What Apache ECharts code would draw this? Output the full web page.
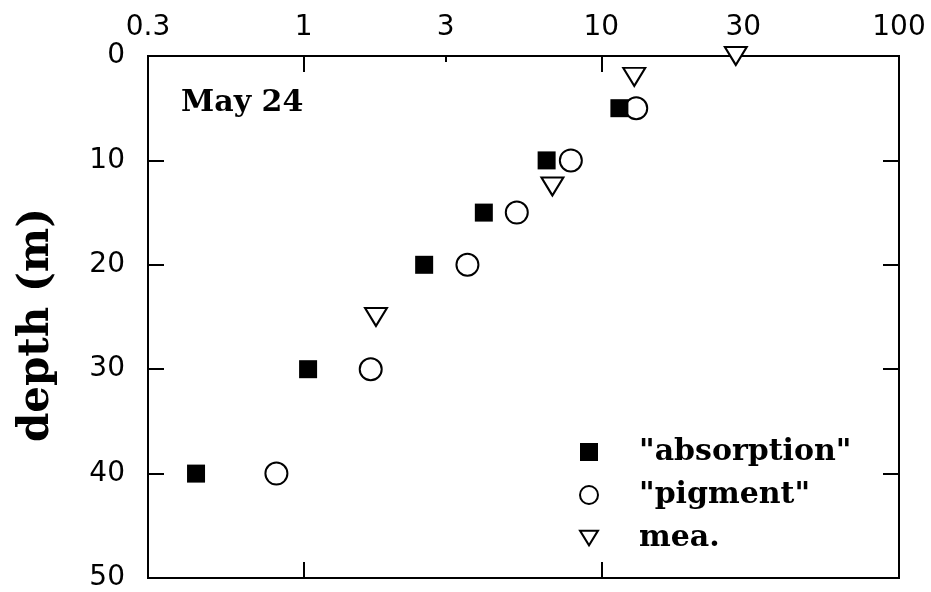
<!DOCTYPE html>
<html>
<head>
<meta charset="utf-8">
<script src="https://cdn.jsdelivr.net/npm/echarts@6/dist/echarts.min.js"></script>
<style>
  html, body { margin: 0; padding: 0; background: #fff; }
  #chart { width: 931px; height: 592px; }
</style>
</head>
<body>
<div id="chart"></div>
<script>
// Depth profiles, May 24 (x on a log scale, depth in metres)
const absorptionDepth = [5, 10, 15, 20, 30, 40];
const absorptionValue = [11.5, 6.55, 4.03, 2.54, 1.035, 0.435];

const pigmentDepth = [5, 10, 15, 20, 30, 40];
const pigmentValue = [13.1, 7.9, 5.2, 3.55, 1.68, 0.81];

const meaDepth = [0, 2, 12.5, 25];
const meaValue = [28.3, 12.9, 6.85, 1.75];

const xTickLabels = [0.3, 1, 3, 10, 30, 100];
const xMajorTicks = [1, 10];
const xMinorTicks = [3];
const depthTicks = [0, 10, 20, 30, 40, 50];

const pairs = (xs, ys) => xs.map((x, i) => [x, ys[i]]);

const tickFont = { fontFamily: 'DejaVu Sans', fontWeight: 'normal', fontSize: 28, color: '#000' };
const serifBold = { fontFamily: 'DejaVu Serif', fontWeight: 'bold', color: '#000' };

const xBase = {
  type: 'log', logBase: 10, min: 0.3, max: 100, gridIndex: 0,
  axisLine: { show: false }, splitLine: { show: false }
};

const chart = echarts.init(document.getElementById('chart'));
chart.setOption({
  animation: false,
  backgroundColor: '#fff',
  grid: { left: 148, right: 32, top: 56, bottom: 14, show: true, borderColor: '#000', borderWidth: 2, containLabel: false },
  title: {
    text: 'May 24', left: 176, top: 82,
    textStyle: Object.assign({ fontSize: 30, lineHeight: 32 }, serifBold)
  },
  legend: {
    orient: 'vertical', left: 574, top: 432,
    itemWidth: 18, itemHeight: 18, itemGap: 13,
    textStyle: Object.assign({ fontSize: 30, lineHeight: 30, padding: [0, 0, 0, 36] }, serifBold),
    data: [
      { name: '"absorption"' },
      { name: '"pigment"' },
      { name: 'mea.', icon: 'path://M0,0 L22,0 L11,18 Z' }
    ]
  },
  xAxis: [
    Object.assign({}, xBase, {
      position: 'top',
      axisTick: { show: true, inside: true, length: 16, lineStyle: { color: '#000', width: 2 }, customValues: xMajorTicks },
      axisLabel: Object.assign({ show: true, margin: 14, customValues: xTickLabels, formatter: v => String(v) }, tickFont)
    }),
    Object.assign({}, xBase, {
      position: 'top',
      axisTick: { show: true, inside: true, length: 6, lineStyle: { color: '#000', width: 2 }, customValues: xMinorTicks },
      axisLabel: { show: false }
    }),
    Object.assign({}, xBase, {
      position: 'bottom',
      axisTick: { show: true, inside: true, length: 16, lineStyle: { color: '#000', width: 2 }, customValues: xMajorTicks },
      axisLabel: { show: false }
    })
  ],
  yAxis: [
    {
      type: 'value', inverse: true, min: 0, max: 50, interval: 10, position: 'left',
      name: 'depth (m)', nameLocation: 'middle', nameRotate: 90, nameGap: 90,
      nameTextStyle: Object.assign({ fontSize: 42, padding: [0, 16, 0, 0] }, serifBold),
      axisLine: { show: false }, splitLine: { show: false },
      axisTick: { show: true, inside: true, length: 16, lineStyle: { color: '#000', width: 2 } },
      axisLabel: Object.assign({ margin: 23, customValues: depthTicks }, tickFont)
    },
    {
      type: 'value', inverse: true, min: 0, max: 50, interval: 10, position: 'right',
      axisLine: { show: false }, splitLine: { show: false },
      axisTick: { show: true, inside: true, length: 16, lineStyle: { color: '#000', width: 2 } },
      axisLabel: { show: false }
    }
  ],
  series: [
    {
      name: '"absorption"', type: 'scatter', xAxisIndex: 0, yAxisIndex: 0,
      symbol: 'rect', symbolSize: 18,
      itemStyle: { color: '#000', borderColor: '#000', borderWidth: 0, opacity: 1 },
      data: pairs(absorptionValue, absorptionDepth), z: 3
    },
    {
      name: '"pigment"', type: 'scatter', xAxisIndex: 0, yAxisIndex: 0,
      symbol: 'circle', symbolSize: 22,
      itemStyle: { color: '#fff', borderColor: '#000', borderWidth: 2, opacity: 1 },
      data: pairs(pigmentValue, pigmentDepth), z: 2
    },
    {
      name: 'mea.', type: 'scatter', xAxisIndex: 0, yAxisIndex: 0,
      symbol: 'triangle', symbolRotate: 180, symbolSize: [22, 18],
      itemStyle: { color: '#fff', borderColor: '#000', borderWidth: 2, opacity: 1 },
      data: pairs(meaValue, meaDepth), z: 4
    }
  ]
});
</script>
</body>
</html>
